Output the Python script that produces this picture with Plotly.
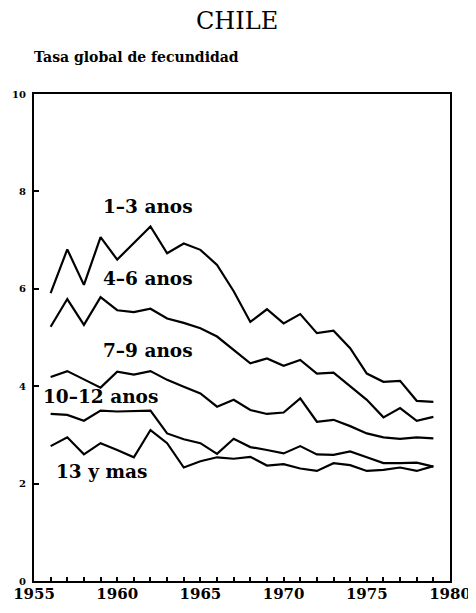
import plotly.graph_objects as go

years = list(range(1956, 1980))

anos_1_3 = [5.91, 6.81, 6.08, 7.06, 6.60, 6.95, 7.28, 6.73, 6.93, 6.80, 6.49, 5.95,
            5.32, 5.58, 5.29, 5.48, 5.09, 5.14, 4.78, 4.26, 4.09, 4.11, 3.70, 3.68]
anos_4_6 = [5.22, 5.79, 5.26, 5.83, 5.56, 5.52, 5.59, 5.39, 5.30, 5.19, 5.02, 4.74,
            4.47, 4.57, 4.42, 4.54, 4.26, 4.28, 3.99, 3.72, 3.36, 3.55, 3.29, 3.37]
anos_7_9 = [4.19, 4.31, 4.14, 3.97, 4.30, 4.24, 4.31, 4.13, 3.99, 3.85, 3.58, 3.72,
            3.51, 3.43, 3.46, 3.75, 3.27, 3.31, 3.18, 3.03, 2.95, 2.92, 2.95, 2.93]
anos_10_12 = [3.43, 3.41, 3.29, 3.50, 3.48, 3.49, 3.50, 3.03, 2.91, 2.83, 2.61, 2.92,
              2.75, 2.69, 2.62, 2.77, 2.60, 2.59, 2.66, 2.54, 2.42, 2.42, 2.43, 2.35]
anos_13_mas = [2.77, 2.95, 2.60, 2.83, 2.69, 2.54, 3.10, 2.83, 2.33, 2.46, 2.54, 2.51,
               2.55, 2.37, 2.40, 2.31, 2.26, 2.42, 2.38, 2.26, 2.28, 2.33, 2.26, 2.36]

x_ticks = [1955, 1960, 1965, 1970, 1975, 1980]
y_ticks = [0, 2, 4, 6, 8, 10]

series = [
    ("1–3 anos", anos_1_3, 1961.85, 7.68),
    ("4–6 anos", anos_4_6, 1961.85, 6.22),
    ("7–9 anos", anos_7_9, 1961.85, 4.74),
    ("10–12 anos", anos_10_12, 1958.97, 3.78),
    ("13 y mas", anos_13_mas, 1959.03, 2.24),
]

SERIF = "DejaVu Serif"

fig = go.Figure()
for name, vals, lx, ly in series:
    fig.add_trace(go.Scatter(x=years, y=vals, mode="lines", name=name,
                             line=dict(color="black", width=2.2), showlegend=False))
    fig.add_annotation(x=lx, y=ly, xref="x", yref="y", text="<b>" + name + "</b>",
                       showarrow=False, xanchor="center", yanchor="middle",
                       font=dict(family=SERIF, size=18.5, color="black"))

fig.add_annotation(x=0.488, y=1.149, xref="paper", yref="paper", text="CHILE",
                   showarrow=False, xanchor="center", yanchor="middle",
                   font=dict(family=SERIF, size=24, color="black"))
fig.add_annotation(x=-0.004, y=1.075, xref="paper", yref="paper", xanchor="left",
                   yanchor="middle",
                   text="<b>Tasa global de fecundidad</b>", showarrow=False,
                   font=dict(family=SERIF, size=14, color="black"))

# the page body has an 8px default margin, so the figure is sized to compensate
fig.update_layout(
    width=468, height=605,
    margin=dict(l=26, r=26, t=86, b=32, autoexpand=False),
    paper_bgcolor="white", plot_bgcolor="white",
    xaxis=dict(range=[1955, 1980], tickvals=x_ticks,
               ticktext=["<b>%d</b>" % v for v in x_ticks],
               ticks="inside", ticklen=4, tickwidth=2, tickcolor="black",
               minor=dict(dtick=1, tick0=1955, ticks="inside", ticklen=4, tickwidth=2,
                          tickcolor="black"),
               showgrid=False, zeroline=False, showline=True, linecolor="black", linewidth=2,
               mirror=True, automargin=False, ticklabelstandoff=-2,
               tickfont=dict(family=SERIF, size=15, color="black")),
    yaxis=dict(range=[0, 10], tickvals=y_ticks,
               ticktext=["<b>%d</b>" % v for v in y_ticks],
               ticks="inside", ticklen=5, tickwidth=2, tickcolor="black",
               showgrid=False, zeroline=False, showline=True, linecolor="black", linewidth=2,
               mirror=True, automargin=False, ticklabelstandoff=4,
               tickfont=dict(family=SERIF, size=10, color="black")),
)

fig.write_html("out.html")
